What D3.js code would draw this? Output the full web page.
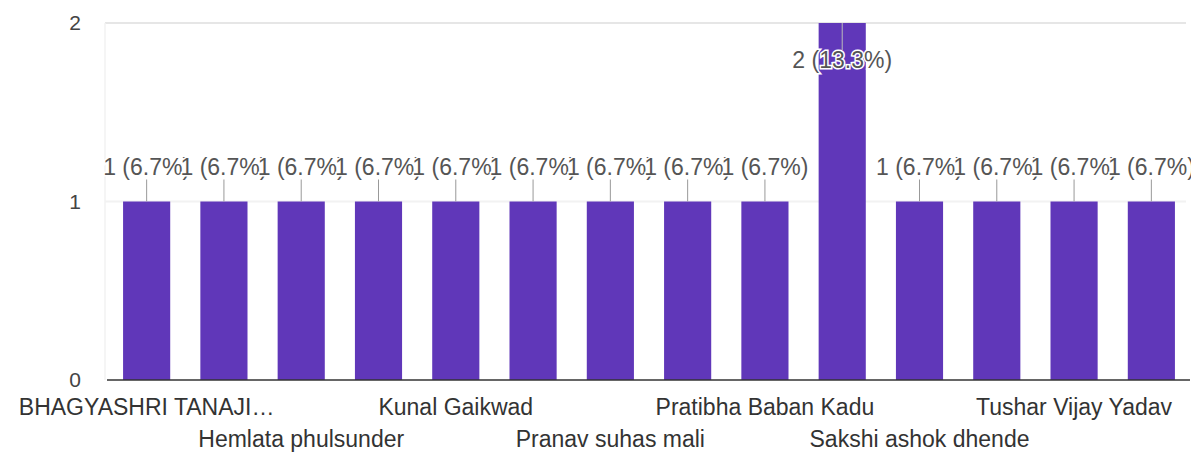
<!DOCTYPE html>
<html><head><meta charset="utf-8">
<script src="https://cdn.jsdelivr.net/npm/d3@7"></script>
<style>body{margin:0;background:#fff;} svg{display:block;font-family:"Liberation Sans",Arial,sans-serif;}</style>
</head><body>
<svg id="c" width="1191" height="452"></svg>
<script>
// Category labels (only every other label is drawn by the chart; hidden ones left blank)
const categories = ["BHAGYASHRI TANAJI…","","Hemlata phulsunder","","Kunal Gaikwad","","Pranav suhas mali","","Pratibha Baban Kadu","","Sakshi ashok dhende","","Tushar Vijay Yadav",""];
const values = [1,1,1,1,1,1,1,1,1,2,1,1,1,1];
const total = 15;
const yTicks = [0,1,2];

const svg = d3.select("#c");
const x = d3.scaleBand().domain(d3.range(values.length)).range([108,1190]).paddingInner(0.39).paddingOuter(0.195);
const y = d3.scaleLinear().domain([0,2]).range([380,23]);

// gridlines
svg.append("g").selectAll("line").data(yTicks.filter(t=>t>0)).join("line")
  .attr("x1",105).attr("x2",1186).attr("y1",d=>y(d)).attr("y2",d=>y(d))
  .attr("stroke",d=>d===2?"#e6e6e6":"#f2f2f2").attr("stroke-width",2);
svg.append("line").attr("x1",105).attr("x2",105).attr("y1",y(2)).attr("y2",y(0)).attr("stroke","#f2f2f2").attr("stroke-width",1.5);

// y tick labels
svg.append("g").selectAll("text").data(yTicks).join("text")
  .attr("x",81).attr("y",d=>y(d)+7).attr("text-anchor","end")
  .attr("font-size",21).attr("fill","#444").text(d=>d);

// bars
svg.append("g").selectAll("rect").data(values).join("rect")
  .attr("x",(d,i)=>x(i)).attr("width",x.bandwidth())
  .attr("y",d=>y(d)).attr("height",d=>y(0)-y(d))
  .attr("fill","#6037b9");

// baseline
svg.append("line").attr("x1",107).attr("x2",1190).attr("y1",y(0)).attr("y2",y(0)).attr("stroke","#333").attr("stroke-width",1.5);

// value labels with leader lines
const fmt = v => v + " (" + (v/total*100).toFixed(1) + "%)";
const lab = svg.append("g");
values.forEach((v,i)=>{
  const cx = x(i)+x.bandwidth()/2;
  const inside = y(v) - 48 < 0;
  const ty = inside ? y(v)+45 : y(v)-27;
  const l1 = inside ? y(v) : y(v)-22;
  const l2 = inside ? y(v)+27 : y(v);
  lab.append("line").attr("x1",cx).attr("x2",cx).attr("y1",l1).attr("y2",l2)
    .attr("stroke",inside?"#bbb":"#999").attr("stroke-width",1);
  lab.append("text").attr("x",cx).attr("y",ty).attr("text-anchor","middle")
    .attr("font-size",23).attr("fill","#555")
    .attr("stroke","#fff").attr("stroke-width",3).attr("paint-order","stroke")
    .text(fmt(v));
});

// x category labels, staggered
svg.append("g").selectAll("text").data(categories.map((c,i)=>({c,i})).filter(d=>d.c)).join("text")
  .attr("x",d=>x(d.i)+x.bandwidth()/2)
  .attr("y",(d,k)=>k%2===0?415:447)
  .attr("text-anchor","middle").attr("font-size",23).attr("fill","#333")
  .text(d=>d.c);
</script>
</body></html>
